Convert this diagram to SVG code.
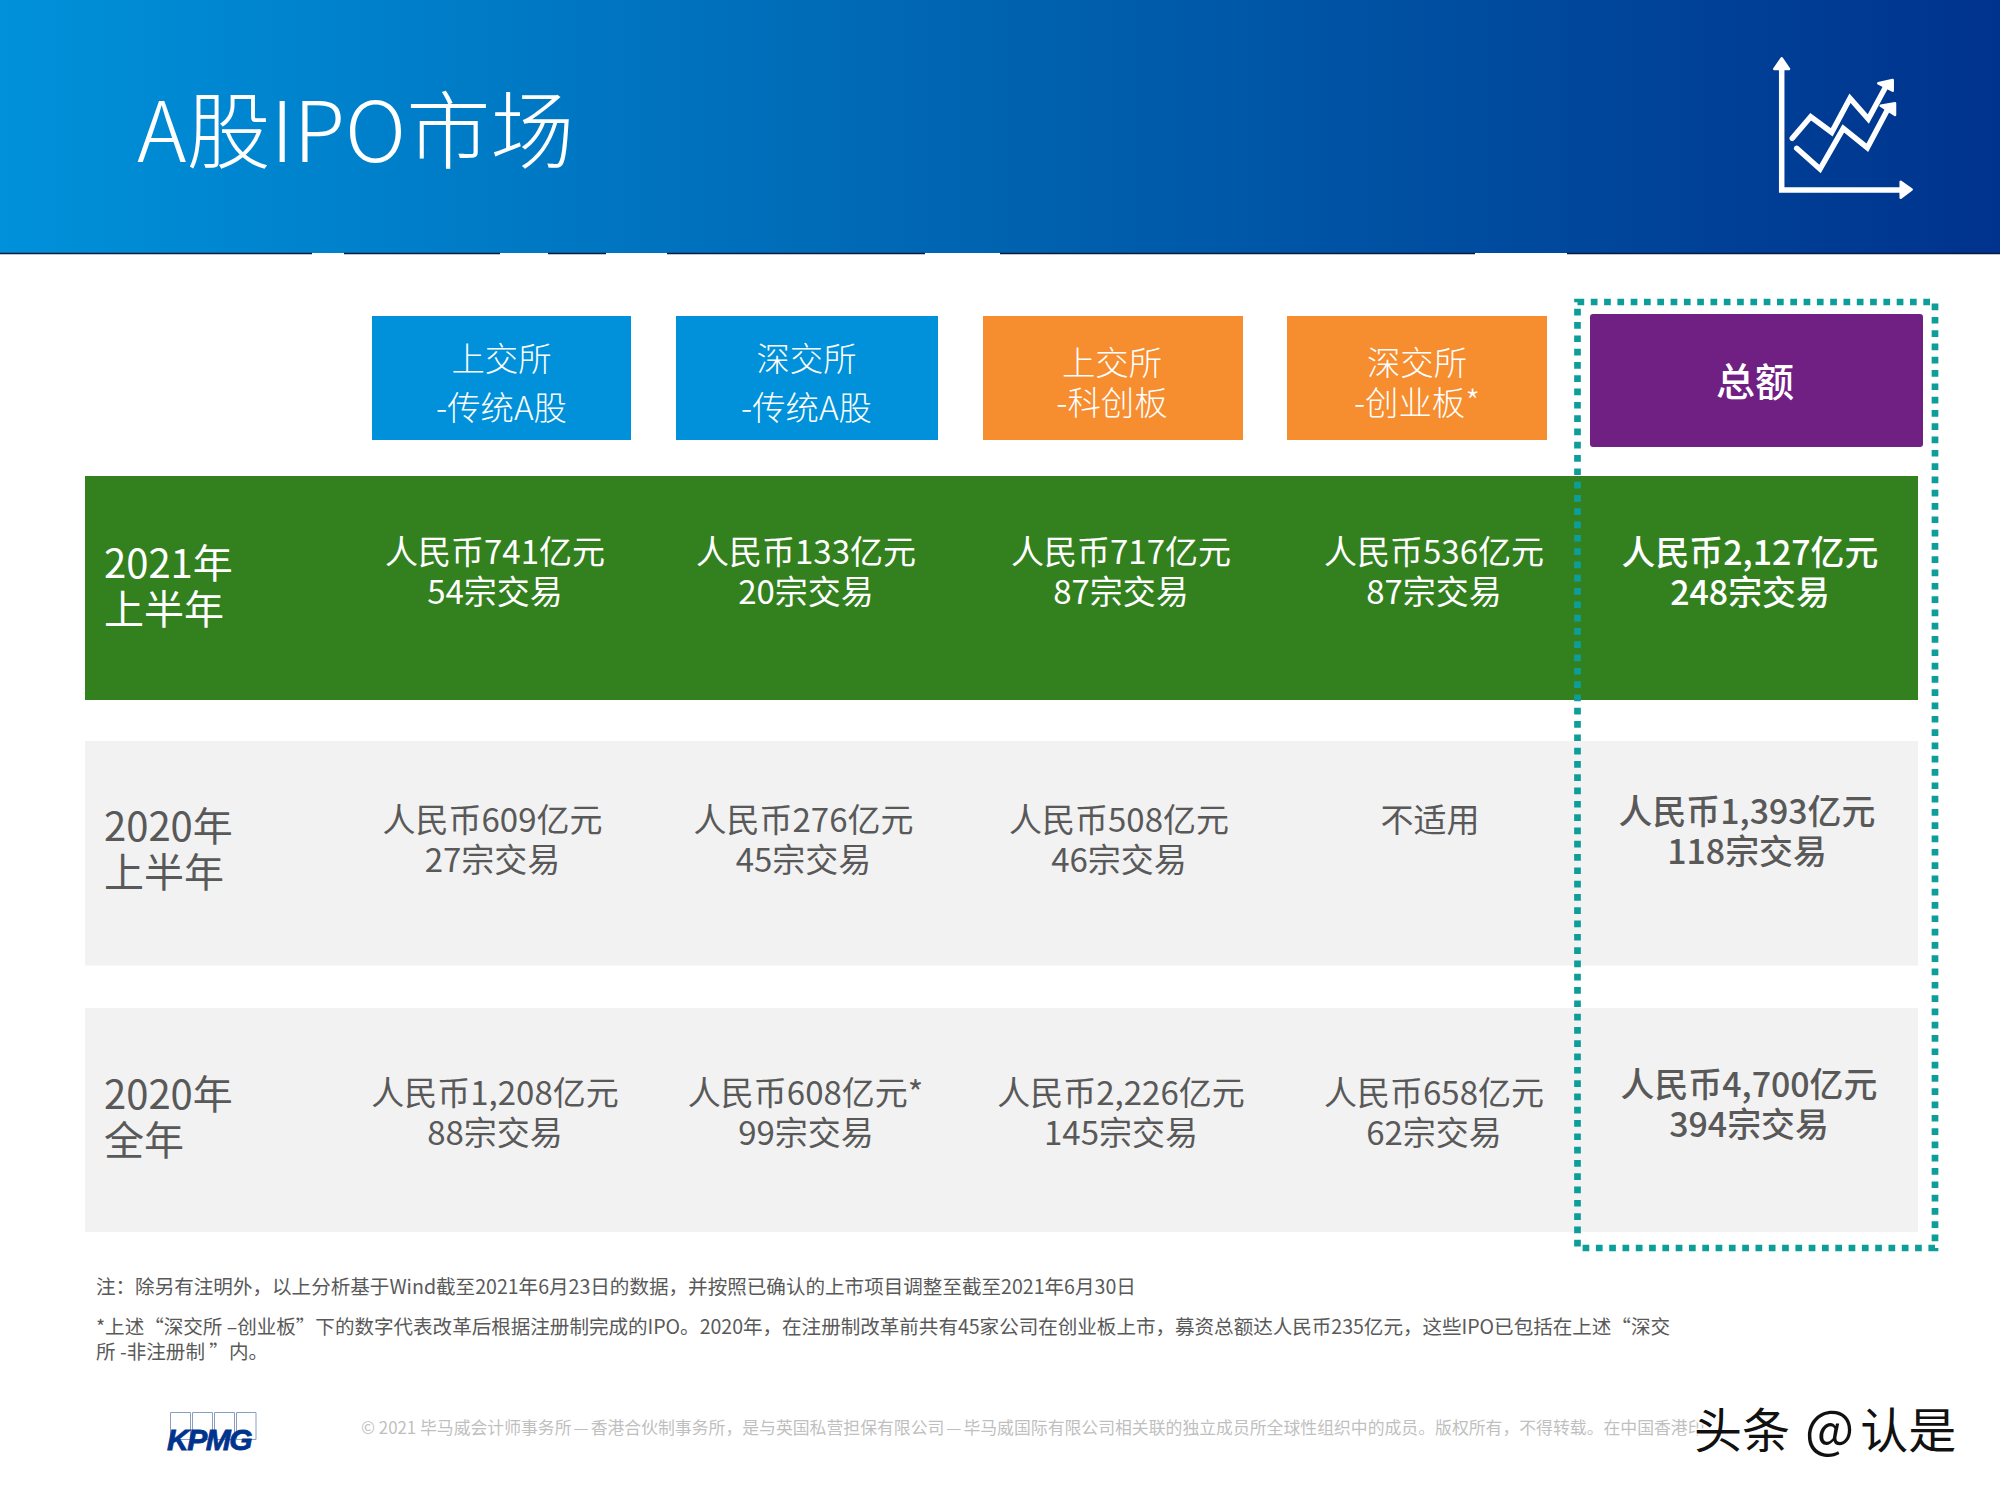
<svg xmlns="http://www.w3.org/2000/svg" width="2000" height="1500" viewBox="0 0 2000 1500">
<defs>
<linearGradient id="hdr" x1="0" y1="0" x2="1" y2="0"><stop offset="0" stop-color="#0091da"/><stop offset="0.5" stop-color="#0063b0"/><stop offset="1" stop-color="#00338d"/></linearGradient>
</defs>
<style>
text{font-family:"Noto Sans CJK SC","Noto Sans",sans-serif}
.c{font-size:33px;fill:#fff;text-anchor:middle}
.g{font-size:33px;fill:#595959;text-anchor:middle}
.b{font-weight:500;font-size:33.9px}
.lw{font-size:40px;fill:#fff}
.lg{font-size:40px;fill:#595959}
.h{font-size:33.4px;fill:#fff;text-anchor:middle;font-weight:300}
.n{font-size:19.57px;fill:#595959}
.icon{fill:none;stroke:#fff;stroke-width:5.5;stroke-linecap:round;stroke-linejoin:miter}
.tip{fill:#fff;stroke:#fff;stroke-width:2.5;stroke-linejoin:round}
.box{fill:none;stroke:#8a9fc0;stroke-width:1}
</style>
<g id="header"><rect width="2000" height="253" fill="url(#hdr)"/><path d="M0 253.500H312M344 253.500H500M548 253.500H606M667 253.500H925M1000 253.500H1475M1567 253.500H2000" stroke="#0a1a3a" stroke-width="1.500" fill="none"/>
<text x="137" y="162" font-size="84.200" font-weight="300" fill="#fff">A股IPO市场</text>
<path class="icon" d="M1781.700 66V190H1903"/>
<path class="icon" d="M1792.300 138.300L1810.700 116.700L1831.700 132.300L1850 98.300L1868.300 119L1886.700 85"/>
<path class="icon" d="M1796.700 148.300L1820 169L1843.300 128.300L1867.300 147.700L1888.300 108.300"/>
<path class="tip" d="M1781.700 58.300L1774.300 69H1789Z"/><path class="tip" d="M1911.700 189.500L1900.700 181.700V197.700Z"/><path class="tip" d="M1878.300 83.300L1892.700 80V90.700Z"/><path class="tip" d="M1880.700 105.700L1895 103.300V115Z"/></g>
<g id="h1"><rect x="372" y="316" width="259" height="124" fill="#0091da"/><text class="h" x="501.500" y="371">上交所</text><text class="h" x="501.500" y="420">-传统A股</text></g>
<g id="h2"><rect x="676" y="316" width="262" height="124" fill="#0091da"/><text class="h" x="806.500" y="371">深交所</text><text class="h" x="806.500" y="420">-传统A股</text></g>
<g id="h3"><rect x="983" y="316" width="260" height="124" fill="#f68d2e"/><text class="h" x="1112" y="375">上交所</text><text class="h" x="1112" y="415">-科创板</text></g>
<g id="h4"><rect x="1287" y="316" width="260" height="124" fill="#f68d2e"/><text class="h" x="1417" y="375">深交所</text><text class="h" x="1417" y="415">-创业板*</text></g>
<g id="h5"><rect x="1590" y="314" width="333" height="133" rx="3" fill="#702082"/><text x="1755" y="396" font-size="39" font-weight="500" fill="#fff" text-anchor="middle">总额</text></g>
<g id="row1"><rect x="85" y="476" width="1833" height="224" fill="#33801f"/>
<text class="lw" x="104" y="578">2021年</text><text class="lw" x="104" y="624">上半年</text>
<text class="c" x="495" y="563.500">人民币741亿元</text><text class="c" x="495" y="603.500">54宗交易</text>
<text class="c" x="806" y="563.500">人民币133亿元</text><text class="c" x="806" y="603.500">20宗交易</text>
<text class="c" x="1121" y="563.500">人民币717亿元</text><text class="c" x="1121" y="603.500">87宗交易</text>
<text class="c" x="1434" y="563.500">人民币536亿元</text><text class="c" x="1434" y="603.500">87宗交易</text>
<text class="c b" x="1750" y="565">人民币2,127亿元</text><text class="c b" x="1750" y="605">248宗交易</text></g>
<g id="row2"><rect x="85" y="741" width="1833" height="224.500" fill="#f2f2f2"/>
<text class="lg" x="104" y="841">2020年</text><text class="lg" x="104" y="887">上半年</text>
<text class="g" x="492.500" y="832">人民币609亿元</text><text class="g" x="492.500" y="872">27宗交易</text>
<text class="g" x="803.500" y="832">人民币276亿元</text><text class="g" x="803.500" y="872">45宗交易</text>
<text class="g" x="1119" y="832">人民币508亿元</text><text class="g" x="1119" y="872">46宗交易</text>
<text class="g" x="1430" y="832">不适用</text>
<text class="g b" x="1747" y="824">人民币1,393亿元</text><text class="g b" x="1747" y="864">118宗交易</text></g>
<g id="row3"><rect x="85" y="1008" width="1833" height="224" fill="#f2f2f2"/>
<text class="lg" x="104" y="1108.500">2020年</text><text class="lg" x="104" y="1154.500">全年</text>
<text class="g" x="495" y="1105">人民币1,208亿元</text><text class="g" x="495" y="1145">88宗交易</text>
<text class="g" x="805.500" y="1105">人民币608亿元*</text><text class="g" x="806" y="1145">99宗交易</text>
<text class="g" x="1121" y="1105">人民币2,226亿元</text><text class="g" x="1121" y="1145">145宗交易</text>
<text class="g" x="1434" y="1105">人民币658亿元</text><text class="g" x="1434" y="1145">62宗交易</text>
<text class="g b" x="1749" y="1097">人民币4,700亿元</text><text class="g b" x="1749" y="1137">394宗交易</text></g>
<g id="total-frame"><rect x="1577.500" y="302" width="357.500" height="946" fill="none" stroke="#0d9e9a" stroke-width="6.700" stroke-dasharray="6.700 6.600"/></g>
<g id="notes">
<text class="n" x="96" y="1294">注：除另有注明外，以上分析基于Wind截至2021年6月23日的数据，并按照已确认的上市项目调整至截至2021年6月30日</text>
<text class="n" x="96" y="1334" textLength="1574">*上述“深交所 –创业板”下的数字代表改革后根据注册制完成的IPO。2020年，在注册制改革前共有45家公司在创业板上市，募资总额达人民币235亿元，这些IPO已包括在上述“深交</text>
<text class="n" x="96" y="1359">所 -非注册制 ”内。</text>
<text x="361" y="1434" font-size="16.850" fill="#bfbfbf">© 2021 毕马威会计师事务所<tspan dx="2">—</tspan><tspan dx="2">香港合伙制事务所，是与英国私营担保有限公司</tspan><tspan dx="2">—</tspan><tspan dx="2">毕马威国际有限公司相关联的独立成员所全球性组织中的成员。版权所有，不得转载。在中国香港印</tspan></text>
</g>
<g id="kpmg"><path class="box" d="M170.500 1412.500h20v27h-20zM192.500 1412.500h20v27h-20zM214.500 1412.500h20v27h-20zM236.500 1412.500h19.500v27h-19.500z"/>
<text x="167" y="1450" font-size="30" font-weight="700" font-style="italic" fill="#00338d" letter-spacing="-1.500" stroke="#00338d" stroke-width="0.800" style="font-family:'Liberation Sans',sans-serif">KPMG</text></g>
<g id="watermark"><text x="1694" y="1448" font-size="48" fill="#111" stroke="#fff" stroke-width="3" paint-order="stroke">头条<tspan dx="15" font-size="52">@</tspan><tspan dx="6">认是</tspan></text></g>
</svg>
